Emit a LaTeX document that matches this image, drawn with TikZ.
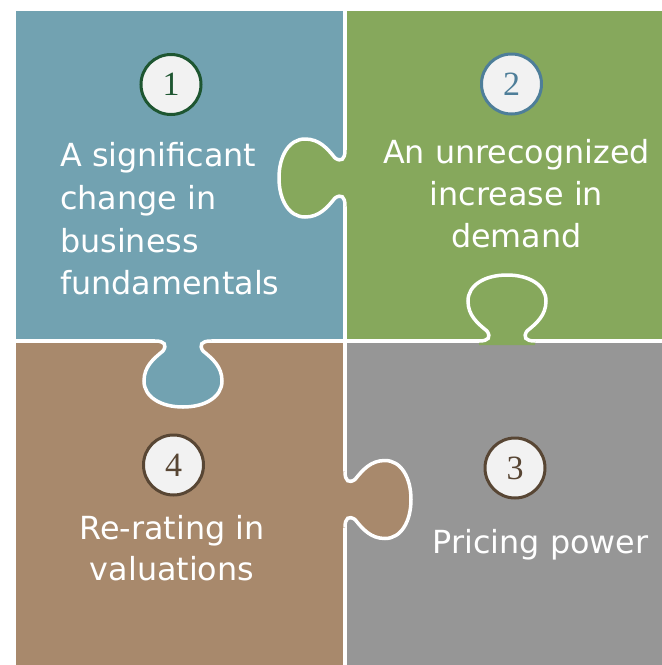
\documentclass[tikz,border=0pt]{standalone}
\usepackage{fontspec}
\newfontfamily\dejavu{DejaVu Sans}
\newfontfamily\numfont{Liberation Serif}
\definecolor{pblue}{RGB}{114,162,177}
\definecolor{pgreen}{RGB}{134,168,92}
\definecolor{pbrown}{RGB}{168,137,108}
\definecolor{pgray}{RGB}{150,150,150}
\definecolor{cfill}{RGB}{242,242,242}
\definecolor{cgreen}{RGB}{30,86,49}
\definecolor{cblue}{RGB}{78,126,153}
\definecolor{cbrown}{RGB}{88,70,52}
\tikzset{
  seam/.style={draw=white, line width=3.5pt},
  tabcurve/.style={insert path={.. controls (-18,0) and (-16,4) .. (-20,10)
     .. controls (-30,18) and (-39,26) .. (-39,40)
     .. controls (-39,56) and (-22,66) .. (0,66)
     .. controls (22,66) and (39,56) .. (39,40)
     .. controls (39,26) and (30,18) .. (20,10)
     .. controls (16,4) and (18,0) .. (28,0)}},
  numcirc/.style={circle, minimum size=60pt, inner sep=0pt, line width=3pt, fill=cfill, font=\numfont\fontsize{34}{34}\selectfont},
  lbl/.style={text=white, inner sep=0pt, font=\dejavu\fontsize{31.8}{37}\selectfont}
}
\begin{document}
\begin{tikzpicture}[x=1pt,y=-1pt]
\useasboundingbox (0,0) rectangle (662,665);
\clip (0,0) rectangle (662,665);
% pieces
\fill[pblue] (14,9) rectangle (345,341);
\fill[pgreen] (345,9) rectangle (690,341);
\fill[pbrown] (14,341) rectangle (345,690);
\fill[pgray] (345,341) rectangle (690,690);
% seams
\draw[seam] (345,9) -- (345,690);
\draw[seam] (14,341) -- (690,341);
\draw[seam] (14,690) -- (14,9) -- (690,9);
% tab: green into blue (left)
\begin{scope}[shift={(345,178)}, x={(0pt,-1pt)}, y={(-1pt,0pt)}]
  \fill[pgreen] (-28,-4) -- (-28,0) [tabcurve] -- (28,-4) -- cycle;
  \draw[seam] (-28,0) [tabcurve];
\end{scope}
% tab: blue into brown (down)
\begin{scope}[shift={(183,341)}, x={(1pt,0pt)}, y={(0pt,-1pt)}]
  \fill[pblue] (-28,-4) -- (-28,0) [tabcurve] -- (28,-4) -- cycle;
  \draw[seam] (-28,0) [tabcurve];
\end{scope}
% tab: green into gray (up)
\begin{scope}[shift={(507,341)}, x={(1pt,0pt)}, y={(0pt,1pt)}]
  \fill[pgreen] (-28,-4) -- (-28,0) [tabcurve] -- (28,-4) -- cycle;
  \draw[seam] (-28,0) [tabcurve];
\end{scope}
% tab: brown into gray (right)
\begin{scope}[shift={(345,499.5)}, x={(0pt,-1pt)}, y={(1pt,0pt)}]
  \fill[pbrown] (-28,-4) -- (-28,0) [tabcurve] -- (28,-4) -- cycle;
  \draw[seam] (-28,0) [tabcurve];
\end{scope}
% number circles
\node[numcirc, draw=cgreen, text=cgreen] (n1) at (171,84.5) {1};
\node[numcirc, draw=cblue, text=cblue] (n2) at (511.5,84) {2};
\node[numcirc, draw=cbrown, text=cbrown] (n3) at (515,468) {3};
\node[numcirc, draw=cbrown, text=cbrown] (n4) at (173.5,465) {4};
% texts
\node[lbl, anchor=base west] (t1a) at (60,166.8) {A significant};
\node[lbl, anchor=base west] (t1b) at (60,209.8) {change in};
\node[lbl, anchor=base west] (t1c) at (60,252.5) {business};
\node[lbl, anchor=base west] (t1d) at (60,294.3) {fundamentals};
\node[lbl, anchor=base] (t2a) at (516.5,163.8) {An unrecognized};
\node[lbl, anchor=base] (t2b) at (516.5,205.6) {increase in};
\node[lbl, anchor=base] (t2c) at (516.5,247) {demand};
\node[lbl, anchor=base] (t3a) at (540.5,553.9) {Pricing power};
\node[lbl, anchor=base] (t4a) at (172,539.1) {Re-rating in};
\node[lbl, anchor=base] (t4b) at (172,580.5) {valuations};
\end{tikzpicture}
\end{document}
